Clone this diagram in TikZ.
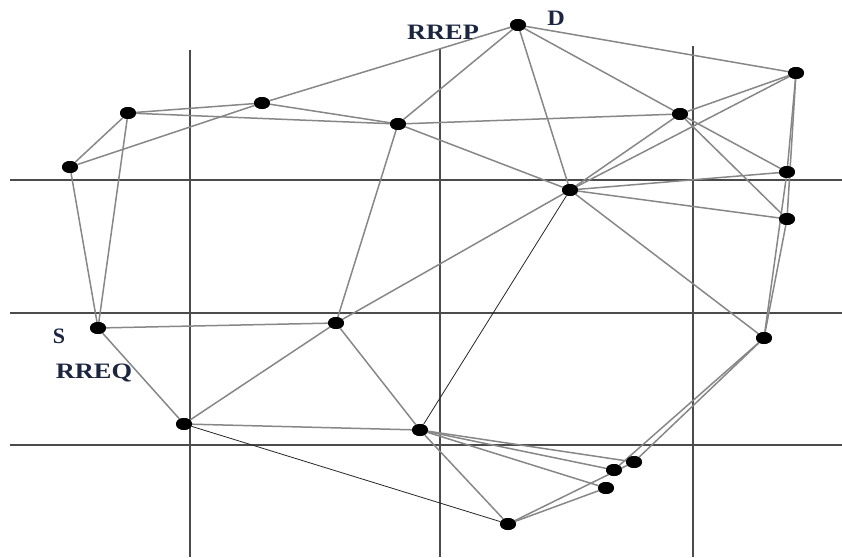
\documentclass[tikz,border=0pt]{standalone}
\usepackage{fontspec}
\setmainfont{Liberation Serif}
\usetikzlibrary{shapes.geometric}
\definecolor{gridc}{RGB}{75,75,75}
\definecolor{edgec}{RGB}{135,135,135}
\definecolor{labc}{RGB}{28,38,64}
\tikzset{
  mnode/.style={ellipse,fill=black,draw=none,minimum width=16pt,minimum height=12pt,inner sep=0pt},
  gridline/.style={draw=gridc,line width=1.6pt},
  link/.style={draw=edgec,line width=1.5pt},
  thinlink/.style={draw=black!85,line width=0.8pt},
  lab/.style={text=labc,font=\fontsize{22}{22}\selectfont\bfseries,inner sep=0pt}
}
\begin{document}
\begin{tikzpicture}[x=1pt,y=-1pt]
\useasboundingbox (0,0) rectangle (842,557);
% grid
\coordinate (v1t) at (190,50); \coordinate (v1b) at (190,557);
\coordinate (v2t) at (440,48); \coordinate (v2b) at (440,557);
\coordinate (v3t) at (693,46); \coordinate (v3b) at (693,557);
\coordinate (h1l) at (10,180); \coordinate (h1r) at (842,180);
\coordinate (h2l) at (10,313); \coordinate (h2r) at (842,313);
\coordinate (h3l) at (10,445); \coordinate (h3r) at (842,445);
\draw[gridline] (v1t) -- (v1b);
\draw[gridline] (v2t) -- (v2b);
\draw[gridline] (v3t) -- (v3b);
\draw[gridline] (h1l) -- (h1r);
\draw[gridline] (h2l) -- (h2r);
\draw[gridline] (h3l) -- (h3r);
% nodes
\node[mnode] (D) at (518,25) {};
\node[mnode] (A1) at (796,73) {};
\node[mnode] (A2) at (680,114) {};
\node[mnode] (N3) at (398,124) {};
\node[mnode] (N4) at (262,103) {};
\node[mnode] (N5) at (128,113) {};
\node[mnode] (N6) at (70,167) {};
\node[mnode] (C) at (570,190) {};
\node[mnode] (R1) at (787,172) {};
\node[mnode] (R2) at (787,219) {};
\node[mnode] (S) at (98,328) {};
\node[mnode] (M) at (336,323) {};
\node[mnode] (R3) at (764,338) {};
\node[mnode] (L) at (184,424) {};
\node[mnode] (B) at (420,430) {};
\node[mnode] (P1) at (634,462) {};
\node[mnode] (P2) at (614,470) {};
\node[mnode] (P3) at (606,488) {};
\node[mnode] (E) at (508,524) {};
% edges
\foreach \a/\b in {D/N4,D/N3,D/C,D/A2,D/A1,N5/N4,N5/N3,N6/N4,N5/N6,N5/S,N6/S,N4/N3,
  S/M,S/L,M/N3,M/C,M/L,M/B,N3/C,N3/A2,A2/C,A1/C,A1/A2,A2/R1,A2/R2,
  A1/R1,A1/R2,R1/R3,R2/R3,C/R1,C/R2,C/R3,L/B,B/P1,B/P2,B/P3,B/E,E/P1,E/P3,P1/R3,P2/R3}
  \draw[link] (\a) -- (\b);
\draw[thinlink] (C) -- (B);
\draw[thinlink] (L) -- (E);
% redraw nodes on top
\foreach \n in {D,A1,A2,N3,N4,N5,N6,C,R1,R2,S,M,R3,L,B,P1,P2,P3,E}
  \fill (\n) ellipse (8pt and 6pt);
% labels
\node[lab,xscale=1.1] (lD) at (556,18) {D};
\node[lab,xscale=1.2] (lRREP) at (443,32) {RREP};
\node[lab] (lS) at (59,336) {S};
\node[lab,xscale=1.2] (lRREQ) at (94,373) {RREQ};
\end{tikzpicture}
\end{document}
